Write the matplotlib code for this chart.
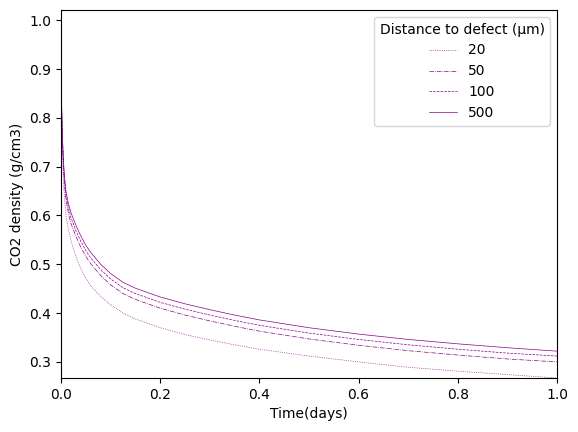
import numpy as np
import matplotlib
matplotlib.use("Agg")
import matplotlib.pyplot as plt

# Time in days and CO2 density (g/cm3)
time_days = [0, 0.001, 0.002, 0.003, 0.005, 0.007, 0.01, 0.015, 0.02, 0.03, 0.04, 0.05, 0.06,
             0.08, 0.1, 0.125, 0.15, 0.2, 0.25, 0.3, 0.35, 0.4, 0.45, 0.5, 0.6, 0.7, 0.8, 0.9, 1.0]
rho_20 = [0.900, 0.825, 0.770, 0.725, 0.670, 0.635, 0.600, 0.570, 0.549, 0.516, 0.491, 0.471,
          0.456, 0.434, 0.417, 0.400, 0.388, 0.370, 0.356, 0.345, 0.335, 0.326, 0.319, 0.312,
          0.300, 0.289, 0.281, 0.274, 0.267]
rho_50 = [0.900, 0.836, 0.787, 0.750, 0.699, 0.665, 0.633, 0.604, 0.584, 0.557, 0.535, 0.516,
          0.501, 0.477, 0.458, 0.440, 0.428, 0.410, 0.396, 0.384, 0.373, 0.363, 0.355, 0.347,
          0.334, 0.323, 0.314, 0.306, 0.300]
rho_100 = [0.900, 0.838, 0.791, 0.755, 0.706, 0.673, 0.642, 0.615, 0.596, 0.569, 0.547, 0.528,
           0.513, 0.489, 0.470, 0.452, 0.440, 0.422, 0.408, 0.396, 0.385, 0.375, 0.367, 0.359,
           0.346, 0.335, 0.326, 0.318, 0.312]
rho_500 = [0.900, 0.840, 0.795, 0.760, 0.712, 0.680, 0.650, 0.624, 0.606, 0.580, 0.558, 0.539,
           0.524, 0.500, 0.481, 0.463, 0.451, 0.433, 0.419, 0.407, 0.396, 0.386, 0.378, 0.370,
           0.357, 0.346, 0.337, 0.329, 0.322]

distances = ["20", "50", "100", "500"]
series = [rho_20, rho_50, rho_100, rho_500]
styles = [":", "-.", "--", "-"]

fig = plt.figure(figsize=(5.78, 4.32), dpi=100)
ax = fig.add_axes([61 / 578, 54 / 432, 496 / 578, 368 / 432])

for label, rho, ls in zip(distances, series, styles):
    ax.plot(time_days, rho, linestyle=ls, color="darkmagenta", linewidth=0.5, label=label)

ax.set_xlim(0, 1)
ax.set_ylim(0.267, 1.021)
ax.set_xlabel("Time(days)")
ax.set_ylabel("CO2 density (g/cm3)")
ax.legend(title="Distance to defect (μm)", loc="upper right")

plt.savefig("out.png", dpi=100)
